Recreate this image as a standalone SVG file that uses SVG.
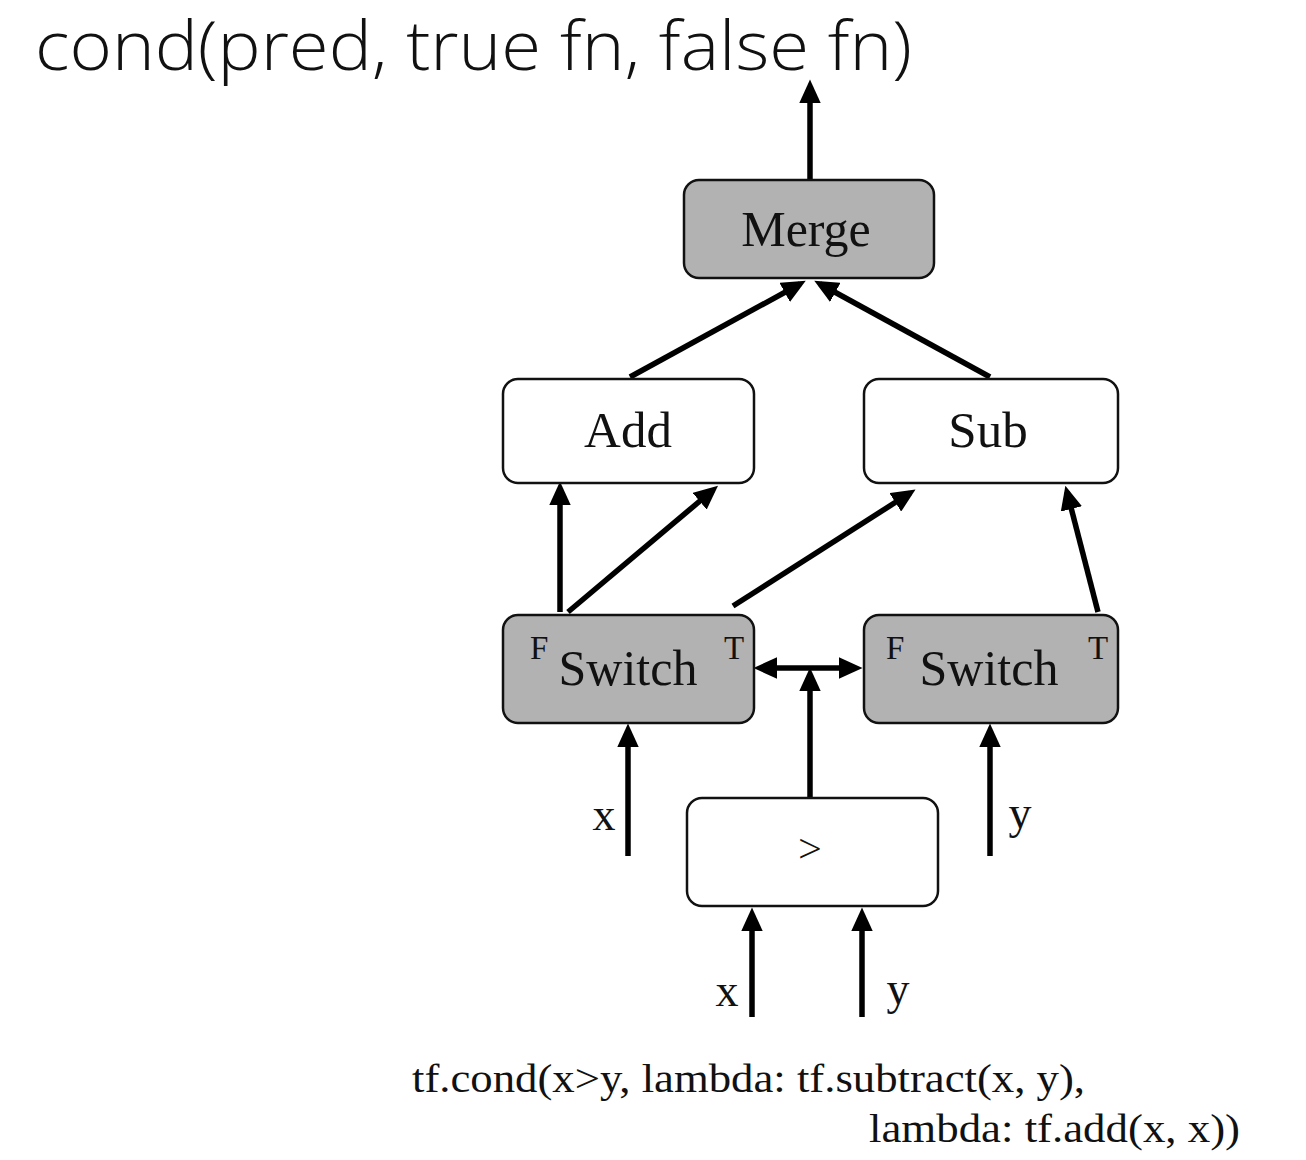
<svg xmlns="http://www.w3.org/2000/svg" width="1306" height="1160" viewBox="0 0 1306 1160">
  <style>
    .box { stroke: #111; stroke-width: 2.5; }
    .gray { fill: #b2b2b2; }
    .white { fill: #ffffff; }
    .lbl { font-family: "Liberation Serif", "Times New Roman", serif; fill: #111; }
    .edge { stroke: #000; stroke-width: 5.5; fill: none; }
    .title { font-family: "Open Sans", "Noto Sans", sans-serif; font-weight: 300; fill: #111; }
  </style>
  <defs>
    <marker id="arrow" markerUnits="userSpaceOnUse" markerWidth="24" markerHeight="22" refX="16" refY="10" orient="auto-start-reverse" viewBox="0 0 22 20">
      <path d="M0,0 L22,10 L0,20 z" fill="#000"/>
    </marker>
  </defs>
  <rect width="1306" height="1160" fill="#ffffff"/>

  <text class="title" x="35" y="70" font-size="68" textLength="877" lengthAdjust="spacingAndGlyphs">cond(pred, true fn, false fn)</text>

  <g id="connectors">
    <!-- Merge output -->
    <line class="edge" x1="810" y1="180" x2="810" y2="86" marker-end="url(#arrow)"/>
    <!-- Add / Sub into Merge -->
    <line class="edge" x1="630" y1="377" x2="800" y2="284" marker-end="url(#arrow)"/>
    <line class="edge" x1="990" y1="377" x2="820" y2="284" marker-end="url(#arrow)"/>
    <!-- left Switch outputs -->
    <line class="edge" x1="560" y1="612" x2="560" y2="488" marker-end="url(#arrow)"/>
    <line class="edge" x1="568" y1="612" x2="713" y2="490" marker-end="url(#arrow)"/>
    <line class="edge" x1="733" y1="606" x2="910" y2="493" marker-end="url(#arrow)"/>
    <!-- right Switch output -->
    <line class="edge" x1="1098" y1="612" x2="1067" y2="492" marker-end="url(#arrow)"/>
    <!-- predicate to both switches -->
    <line class="edge" x1="760" y1="668" x2="856" y2="668" marker-start="url(#arrow)" marker-end="url(#arrow)"/>
    <line class="edge" x1="810" y1="798" x2="810" y2="674" marker-end="url(#arrow)"/>
    <!-- data inputs -->
    <line class="edge" x1="628" y1="856" x2="628" y2="730" marker-end="url(#arrow)"/>
    <line class="edge" x1="990" y1="856" x2="990" y2="730" marker-end="url(#arrow)"/>
    <line class="edge" x1="752" y1="1017" x2="752" y2="914" marker-end="url(#arrow)"/>
    <line class="edge" x1="862" y1="1017" x2="862" y2="914" marker-end="url(#arrow)"/>
  </g>

  <g id="merge">
    <rect class="box gray" x="684" y="180" width="250" height="98" rx="15"/>
    <text class="lbl" x="806" y="246" font-size="50" text-anchor="middle">Merge</text>
  </g>
  <g id="add">
    <rect class="box white" x="503" y="379" width="251" height="104" rx="15"/>
    <text class="lbl" x="628" y="447" font-size="51" text-anchor="middle">Add</text>
  </g>
  <g id="sub">
    <rect class="box white" x="864" y="379" width="254" height="104" rx="15"/>
    <text class="lbl" x="988" y="447" font-size="51" text-anchor="middle">Sub</text>
  </g>
  <g id="switch-left">
    <rect class="box gray" x="503" y="615" width="251" height="108" rx="15"/>
    <text class="lbl" x="628" y="685" font-size="50" text-anchor="middle">Switch</text>
    <text class="lbl" x="530" y="659" font-size="33">F</text>
    <text class="lbl" x="724" y="659" font-size="33">T</text>
  </g>
  <g id="switch-right">
    <rect class="box gray" x="864" y="615" width="254" height="108" rx="15"/>
    <text class="lbl" x="989" y="685" font-size="50" text-anchor="middle">Switch</text>
    <text class="lbl" x="886" y="659" font-size="33">F</text>
    <text class="lbl" x="1088" y="659" font-size="33">T</text>
  </g>
  <g id="greater">
    <rect class="box white" x="687" y="798" width="251" height="108" rx="15"/>
    <text x="810" y="864" font-size="42" text-anchor="middle" font-family="Open Sans, Noto Sans, sans-serif" font-weight="300" fill="#111">&gt;</text>
  </g>

  <g id="input-labels">
    <text class="lbl" x="604" y="830" font-size="46" text-anchor="middle">x</text>
    <text class="lbl" x="1020" y="828" font-size="46" text-anchor="middle">y</text>
    <text class="lbl" x="727" y="1006" font-size="46" text-anchor="middle">x</text>
    <text class="lbl" x="898" y="1004" font-size="46" text-anchor="middle">y</text>
  </g>

  <g id="code">
    <text class="lbl" x="412" y="1092" font-size="40" textLength="673" lengthAdjust="spacingAndGlyphs">tf.cond(x&gt;y, lambda: tf.subtract(x, y),</text>
    <text class="lbl" x="869" y="1142" font-size="40" textLength="371" lengthAdjust="spacingAndGlyphs">lambda: tf.add(x, x))</text>
  </g>
</svg>
